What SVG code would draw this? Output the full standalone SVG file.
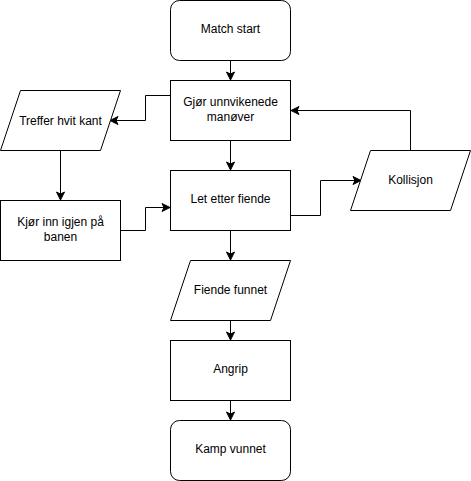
<svg xmlns="http://www.w3.org/2000/svg" width="471" height="481" viewBox="0 0 471 481">
<style>
.n{fill:#fff;stroke:#000;stroke-width:1}
.t{font-family:"Liberation Sans",Arial,sans-serif;font-size:12px;fill:#000;text-anchor:middle}
.e{fill:none;stroke:#000;stroke-width:1}
</style>
<defs>
<marker id="a" markerUnits="userSpaceOnUse" markerWidth="10" markerHeight="10" viewBox="-1 -5 10 10" refX="8" refY="0" orient="auto">
<path d="M0,-4 L8,0 L0,4 L2,0 Z" fill="#000" stroke="#000" stroke-width="1"/>
</marker>
</defs>
<g id="edges">
<path class="e" d="M230.5,60.5 V80" marker-end="url(#a)"/>
<path class="e" d="M170.5,95.5 H145.5 V120.5 H110" marker-end="url(#a)"/>
<path class="e" d="M230.5,140.5 V170" marker-end="url(#a)"/>
<path class="e" d="M60.5,150.5 V200" marker-end="url(#a)"/>
<path class="e" d="M120.5,230.5 H145.5 V207.5 H170" marker-end="url(#a)"/>
<path class="e" d="M290.5,215.5 H320.5 V180.5 H361" marker-end="url(#a)"/>
<path class="e" d="M410.5,150.5 V110.5 H291" marker-end="url(#a)"/>
<path class="e" d="M230.5,230.5 V260" marker-end="url(#a)"/>
<path class="e" d="M230.5,320.5 V340" marker-end="url(#a)"/>
<path class="e" d="M230.5,400.5 V420" marker-end="url(#a)"/>
</g>
<g id="match-start"><rect class="n" x="170.5" y="0.5" width="120" height="60" rx="9"/><text class="t" x="230.5" y="32.5">Match start</text></g>
<g id="gjor"><rect class="n" x="170.5" y="80.5" width="120" height="60"/><text class="t" x="230.5" y="105.5">Gjør unnvikenede</text><text class="t" x="230.5" y="120.5">manøver</text></g>
<g id="treffer"><path class="n" d="M20.5,90.5 H120.5 L100.5,150.5 H0.5 Z"/><text class="t" x="60.5" y="124.5">Treffer hvit kant</text></g>
<g id="let"><rect class="n" x="170.5" y="170.5" width="120" height="60"/><text class="t" x="230.5" y="202.5">Let etter fiende</text></g>
<g id="kjor"><rect class="n" x="0.5" y="200.5" width="120" height="60"/><text class="t" x="60.5" y="225.5">Kjør inn igjen på</text><text class="t" x="60.5" y="240.5">banen</text></g>
<g id="kollisjon"><path class="n" d="M370.5,150.5 H470.5 L450.5,210.5 H350.5 Z"/><text class="t" x="410.5" y="183.5">Kollisjon</text></g>
<g id="fiende"><path class="n" d="M190.5,260.5 H290.5 L270.5,320.5 H170.5 Z"/><text class="t" x="230.5" y="293.5">Fiende funnet</text></g>
<g id="angrip"><rect class="n" x="170.5" y="340.5" width="120" height="60"/><text class="t" x="230.5" y="372.5">Angrip</text></g>
<g id="kamp"><rect class="n" x="170.5" y="420.5" width="120" height="60" rx="9"/><text class="t" x="230.5" y="452.5">Kamp vunnet</text></g>
</svg>
